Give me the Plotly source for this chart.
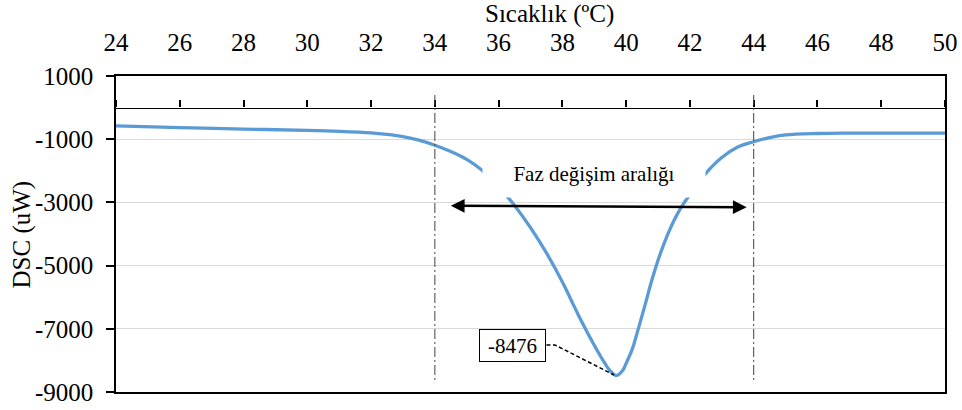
import plotly.graph_objects as go

# ---- data ----
temp = [24, 26, 28, 30, 31, 32, 32.5, 33, 33.5, 34, 34.5, 35, 35.5, 36, 36.5, 37, 37.5,
        38, 38.5, 39, 39.3, 39.5, 39.7, 39.9, 40.0, 40.2, 40.4, 40.6, 40.8, 41.0, 41.2,
        41.4, 41.6, 41.8, 42.0, 42.5, 43.0, 43.5, 44.0, 44.5, 45, 46, 47, 48, 49, 50]
dsc = [-580, -635, -680, -720, -750, -800, -850, -920, -1030, -1190, -1390, -1640,
       -2000, -2500, -3100, -3800, -4600, -5520, -6560, -7520, -8040, -8330, -8476,
       -8300, -8093, -7620, -6930, -6220, -5480, -4830, -4270, -3790, -3380, -3040,
       -2760, -2080, -1580, -1250, -1080, -950, -865, -820, -808, -805, -806, -810]
x_ticks = [24, 26, 28, 30, 32, 34, 36, 38, 40, 42, 44, 46, 48, 50]
y_ticks = [1000, -1000, -3000, -5000, -7000, -9000]
y_tick_labels = ["1000", "-1000", "-3000", "-5000", "-7000", "-9000"]
phase_bounds = [34, 44]
range_arrow_x = [34.455, 43.78]
range_arrow_y = [-3104, -3155]
range_label = "Faz değişim aralığı"
x_title = "Sıcaklık (ºC)"
y_title = "DSC (uW)"

FONT = "Liberation Serif, Times New Roman, Tinos, DejaVu Serif, serif"
BLUE = "#5B9BD5"
FS = 25

imin = min(range(len(dsc)), key=lambda i: dsc[i])
t_min, v_min = temp[imin], dsc[imin]

label_x, label_y = 36.44, -7528
label_half_w = 1.06  # in degrees (half box width)
leader_x = [label_x + label_half_w, label_x + label_half_w + 0.27, t_min - 0.08]
leader_y = [label_y + 15, label_y + 15, v_min + 15]

fig = go.Figure()
fig.add_trace(go.Scatter(x=temp, y=dsc, mode="lines",
                         line=dict(color=BLUE, width=3.3, shape="spline", smoothing=1.0),
                         showlegend=False, hoverinfo="skip"))
fig.add_trace(go.Scatter(x=leader_x, y=leader_y, mode="lines",
                         line=dict(color="black", width=1.5, dash="4px,2.5px"),
                         showlegend=False, hoverinfo="skip"))
# helper trace to establish the axis that crosses at y = 0
fig.add_trace(go.Scatter(x=[x_ticks[0], x_ticks[-1]], y=[None, None], xaxis="x2",
                         mode="lines", showlegend=False, hoverinfo="skip"))

for b in phase_bounds:
    fig.add_shape(type="line", xref="x", yref="y", x0=b, x1=b, y0=400, y1=-8720,
                  line=dict(color="#404040", width=1, dash="10px,3px,2px,3px"))

fig.add_annotation(x=range_arrow_x[1], y=range_arrow_y[1], ax=range_arrow_x[0], ay=range_arrow_y[0],
                   axref="x", ayref="y", xref="x", yref="y", text="", showarrow=True,
                   arrowhead=2, startarrowhead=2, arrowside="end+start",
                   arrowwidth=2.5, arrowsize=1.1, startarrowsize=1.1,
                   arrowcolor="black", standoff=0, startstandoff=0)
fig.add_annotation(x=39.0, y=-2100, xref="x", yref="y", text=range_label, showarrow=False,
                   bgcolor="white", width=220, height=45, borderpad=1,
                   font=dict(family=FONT, size=21, color="black"))
fig.add_annotation(x=label_x, y=label_y, xref="x", yref="y", text=str(v_min), showarrow=False,
                   bgcolor="white", bordercolor="black", borderwidth=1, borderpad=1,
                   width=63, height=29, font=dict(family=FONT, size=21, color="black"))
fig.add_annotation(x=0.5235, y=1.196, xref="paper", yref="paper", text=x_title,
                   showarrow=False, xanchor="center", yanchor="middle",
                   font=dict(family=FONT, size=FS, color="black"))
fig.add_annotation(x=-0.1128, y=0.5, xref="paper", yref="paper", text=y_title,
                   textangle=-90, showarrow=False, xanchor="center", yanchor="middle",
                   font=dict(family=FONT, size=FS, color="black"))

fig.update_layout(
    width=962, height=410,
    margin=dict(l=116, r=17, t=76, b=18),
    plot_bgcolor="white", paper_bgcolor="white",
    font=dict(family=FONT, size=FS, color="black"),
    xaxis=dict(range=[24, 50], side="top", tickmode="array", tickvals=x_ticks,
               ticks="", showline=True, mirror=True, linecolor="black", linewidth=1.5,
               showgrid=False, zeroline=False, automargin=False, ticklabelstandoff=13,
               tickfont=dict(family=FONT, size=FS, color="black")),
    xaxis2=dict(range=[24, 50], overlaying="x", anchor="free", position=0.9, side="top",
                tickmode="array", tickvals=x_ticks, ticks="outside", ticklen=7, tickwidth=1.5,
                tickcolor="black", showticklabels=False, showline=True, linecolor="black",
                linewidth=1.3, showgrid=False, zeroline=False, automargin=False),
    yaxis=dict(range=[-9000, 1000], tickmode="array", tickvals=y_ticks, ticktext=y_tick_labels,
               ticks="outside", ticklen=8, tickwidth=1.5, tickcolor="black",
               showline=True, mirror=True, linecolor="black", linewidth=1.5,
               showgrid=True, gridcolor="#D9D9D9", gridwidth=1.2, zeroline=False,
               automargin=False, ticklabelstandoff=8,
               tickfont=dict(family=FONT, size=FS, color="black")),
)

fig.write_html("out.html")
